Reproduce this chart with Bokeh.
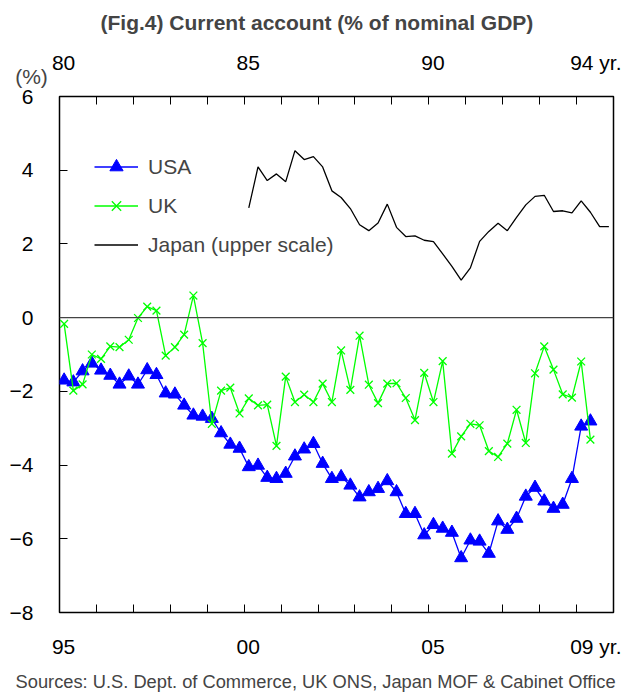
from bokeh.plotting import figure
from bokeh.models import Range1d, LinearAxis, FixedTicker, Span, Label, Legend, LegendItem
from bokeh.embed import file_html
from bokeh.resources import INLINE

# ---------------- data (quarterly, % of nominal GDP) ----------------
usa_start_year = 1995   # lower scale, from 1995 Q1
usa = [-1.70, -1.75, -1.45, -1.24, -1.43, -1.57, -1.81, -1.59, -1.81, -1.42,
       -1.55, -2.05, -2.08, -2.38, -2.65, -2.68, -2.74, -3.13, -3.44, -3.55,
       -4.05, -4.01, -4.34, -4.37, -4.23, -3.76, -3.57, -3.42, -3.96, -4.37,
       -4.32, -4.55, -4.87, -4.73, -4.64, -4.43, -4.73, -5.32, -5.32, -5.90,
       -5.62, -5.72, -5.83, -6.52, -6.04, -6.07, -6.40, -5.52, -5.75, -5.45,
       -4.85, -4.61, -4.98, -5.18, -5.07, -4.37, -2.95, -2.81]
uk = [-0.17, -1.98, -1.81, -1.00, -1.12, -0.78, -0.80, -0.60, -0.01, 0.30,
      0.19, -1.03, -0.80, -0.46, 0.60, -0.69, -2.88, -1.98, -1.90, -2.60,
      -2.19, -2.38, -2.36, -3.48, -1.60, -2.29, -2.09, -2.29, -1.79, -2.29,
      -0.89, -1.96, -0.49, -1.82, -2.32, -1.79, -1.78, -2.18, -2.78, -1.50,
      -2.29, -1.18, -3.69, -3.22, -2.88, -2.92, -3.62, -3.78, -3.42, -2.50,
      -3.40, -1.51, -0.78, -1.41, -2.08, -2.17, -1.19, -3.31]
japan_start_year = 1985  # upper scale, from 1985 Q1
japan = [2.98, 4.09, 3.72, 3.90, 3.69, 4.53, 4.29, 4.37, 4.09, 3.44,
         3.26, 2.96, 2.52, 2.36, 2.57, 3.08, 2.45, 2.20, 2.22, 2.10,
         2.06, 1.73, 1.39, 1.02, 1.35, 2.07, 2.34, 2.56, 2.36, 2.72,
         3.06, 3.29, 3.32, 2.88, 2.90, 2.84, 3.17, 2.86, 2.47, 2.47]

lower_years = [1995, 2000, 2005, 2009]
lower_labels = ["95", "00", "05", "09 yr."]
upper_years = [1980, 1985, 1990, 1994]
upper_labels = ["80", "85", "90", "94 yr."]
y_ticks = [6, 4, 2, 0, -2, -4, -6, -8]

title_text = "(Fig.4) Current account (% of nominal GDP)"
source_text = "Sources: U.S. Dept. of Commerce, UK ONS, Japan MOF & Cabinet Office"
unit_text = "(%)"

FONT = "Liberation Sans"

x_usa = [usa_start_year + (i + 0.5) / 4 for i in range(len(usa))]
x_jp = [japan_start_year + (i + 0.5) / 4 for i in range(len(japan))]

p = figure(width=635, height=693, x_range=Range1d(1995, 2010), y_range=Range1d(-8, 6),
           output_backend="svg", toolbar_location=None,
           min_border_left=59, min_border_right=22, min_border_top=96, min_border_bottom=81)
p.title.visible = False
p.extra_x_ranges = {"upper": Range1d(1980, 1995)}
p.xgrid.visible = False
p.ygrid.visible = False
p.outline_line_color = "black"
p.outline_line_width = 1.5
p.background_fill_color = "white"
p.border_fill_color = "white"

LAB_OFF = 0.11      # label centre sits a little right of the year tick
LAST_OFF = 0.522    # "94 yr." / "09 yr." : keep the digits over their tick

def style_x(ax, years, labels):
    ticks = [y + LAB_OFF for y in years[:-1]] + [years[-1] + LAST_OFF]
    lo = int(min(years))
    ax.ticker = FixedTicker(ticks=ticks, minor_ticks=list(range(lo + 1, lo + 15)))
    ax.major_label_overrides = {t: l for t, l in zip(ticks, labels)}
    ax.major_tick_in = 0
    ax.major_tick_out = 0
    ax.minor_tick_in = 8
    ax.minor_tick_out = 0
    ax.minor_tick_line_color = "black"
    ax.axis_line_color = None
    ax.major_label_text_font = FONT
    ax.major_label_text_font_size = "21px"
    ax.major_label_text_color = "black"

bottom = p.xaxis[0]
style_x(bottom, lower_years, lower_labels)
bottom.major_label_standoff = 22

top = LinearAxis(x_range_name="upper")
style_x(top, upper_years, upper_labels)
top.major_label_standoff = 23
p.add_layout(top, "above")

left = p.yaxis[0]
left.ticker = FixedTicker(ticks=y_ticks)
left.major_tick_in = 8
left.major_tick_out = 0
left.minor_tick_in = 0
left.minor_tick_out = 0
left.major_tick_line_color = "black"
left.axis_line_color = None
left.major_label_standoff = 26
left.major_label_text_font = FONT
left.major_label_text_font_size = "21px"
left.major_label_text_color = "black"

p.add_layout(Span(location=0, dimension="width", line_color="#444444", line_width=1.3))

usa_line = p.line(x_usa, usa, line_color="#0000FF", line_width=1.3)
usa_pts = p.scatter(x_usa, usa, marker="triangle", size=13, fill_color="#0000FF", line_color="#0000FF")
uk_line = p.line(x_usa, uk, line_color="#00FF00", line_width=1.3)
uk_pts = p.scatter(x_usa, uk, marker="x", size=11, line_color="#00FF00", line_width=1.3)
jp_line = p.line(x_jp, japan, line_color="black", line_width=1.3, x_range_name="upper")

legend = Legend(items=[LegendItem(label="USA", renderers=[usa_line, usa_pts]),
                       LegendItem(label="UK", renderers=[uk_line, uk_pts]),
                       LegendItem(label="Japan (upper scale)", renderers=[jp_line])],
                location=(35, 351), padding=0, margin=0, spacing=6,
                glyph_width=44, glyph_height=33, label_height=33, label_standoff=10,
                label_text_font=FONT, label_text_font_size="21px",
                background_fill_alpha=0, border_line_alpha=0)
p.add_layout(legend)

def side_label(place, x, y, text, align="left", size="21px", style="normal"):
    lab = Label(x=x, y=y, text=text, text_align=align, text_baseline="alphabetic",
                text_font=FONT, text_font_size=size, text_font_style=style,
                text_line_height=0.05)
    p.add_layout(lab, place)

side_label("above", 1996.11, 8.01, title_text, size="21px", style="bold")
side_label("above", 1994.242, 6.54, unit_text, align="center")
side_label("below", 1993.81, -9.87, source_text, size="18.3px")

open("out.html", "w").write(file_html(p, INLINE))
